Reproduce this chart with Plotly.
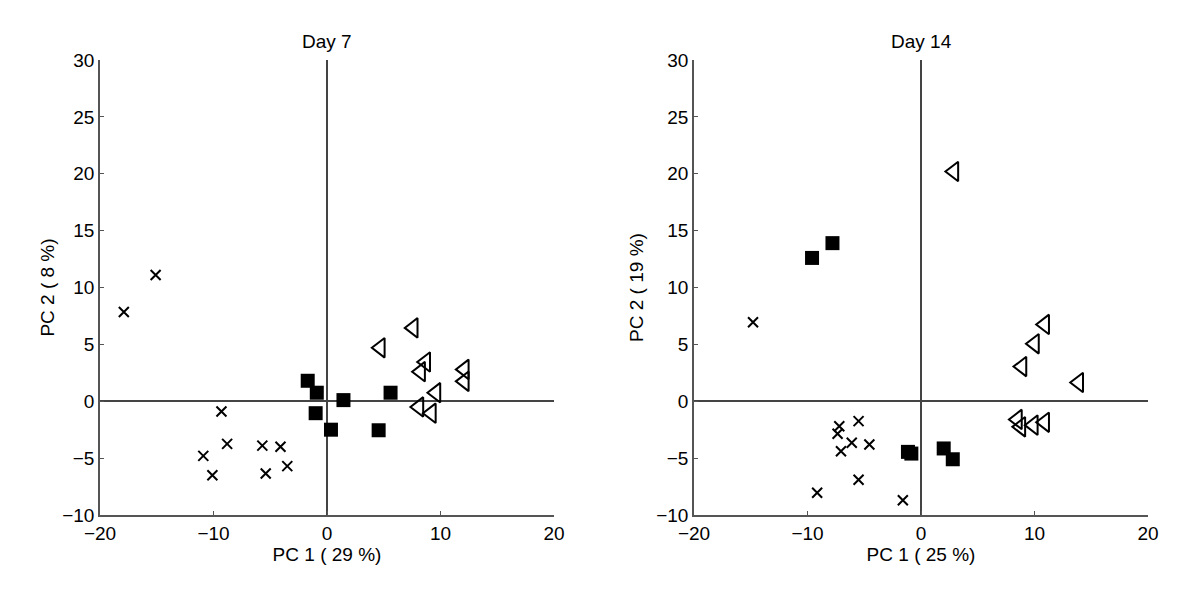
import plotly.graph_objects as go

# Day 7 data
d7_cross_x = [-17.9, -15.1, -9.3, -8.8, -10.9, -10.1, -5.7, -4.1, -5.4, -3.5]
d7_cross_y = [7.85, 11.1, -0.9, -3.75, -4.8, -6.5, -3.9, -4.0, -6.35, -5.7]
d7_sq_x = [-1.7, -0.9, -1.0, 1.45, 0.35, 5.6, 4.55]
d7_sq_y = [1.8, 0.75, -1.05, 0.1, -2.5, 0.75, -2.55]
d7_tri_x = [7.6, 4.7, 8.7, 8.25, 12.1, 12.1, 9.6, 8.1, 9.2]
d7_tri_y = [6.45, 4.7, 3.45, 2.6, 2.8, 1.75, 0.75, -0.5, -1.05]

# Day 14 data
d14_cross_x = [-14.8, -7.2, -7.35, -5.5, -6.1, -4.55, -7.05, -5.5, -9.15, -1.6]
d14_cross_y = [6.95, -2.2, -2.85, -1.75, -3.65, -3.8, -4.4, -6.9, -8.05, -8.7]
d14_sq_x = [-9.6, -7.8, -1.15, -0.85, 2.0, 2.8]
d14_sq_y = [12.6, 13.9, -4.45, -4.6, -4.15, -5.1]
d14_tri_x = [2.9, 10.9, 10.0, 8.9, 13.9, 8.5, 8.8, 9.9, 10.9]
d14_tri_y = [20.2, 6.75, 5.05, 3.05, 1.65, -1.6, -2.25, -2.1, -1.85]

titles = ["Day 7", "Day 14"]
xtitles = ["PC 1 ( 29 %)", "PC 1 ( 25 %)"]
ytitles = ["PC 2 ( 8 %)", "PC 2 ( 19 %)"]
x_ticks = [-20, -10, 0, 10, 20]
y_ticks = [-10, -5, 0, 5, 10, 15, 20, 25, 30]

FONT = "Liberation Sans, Arial, Helvetica, sans-serif"
FS = 19
fig = go.Figure()

datasets = [
    (d7_cross_x, d7_cross_y, d7_sq_x, d7_sq_y, d7_tri_x, d7_tri_y),
    (d14_cross_x, d14_cross_y, d14_sq_x, d14_sq_y, d14_tri_x, d14_tri_y),
]

for i, (cx, cy, sx, sy, tx, ty) in enumerate(datasets):
    xa = "x" if i == 0 else "x2"
    ya = "y" if i == 0 else "y2"
    fig.add_trace(go.Scatter(x=cx, y=cy, mode="markers", xaxis=xa, yaxis=ya,
                             marker=dict(symbol="x-thin", size=10, line=dict(width=2, color="black"), color="black"),
                             showlegend=False))
    fig.add_trace(go.Scatter(x=sx, y=sy, mode="markers", xaxis=xa, yaxis=ya,
                             marker=dict(symbol="square", size=14, color="black", line=dict(width=0)),
                             showlegend=False))
    fig.add_trace(go.Scatter(x=tx, y=ty, mode="markers", xaxis=xa, yaxis=ya,
                             marker=dict(symbol="triangle-left-open", size=17, color="black", line=dict(width=2, color="black")),
                             showlegend=False))

axis_common = dict(showgrid=False, showline=True, linecolor="#555", linewidth=1.5,
                   ticks="inside", ticklen=4, tickcolor="#555", tickwidth=1,
                   zeroline=True, zerolinecolor="#444", zerolinewidth=1.5, automargin=False,
                   tickfont=dict(family=FONT, size=FS, color="black"), mirror=False)

OFF = 8  # page offset
L, R, T, B = 100 - OFF, 52 + OFF, 60 - OFF, 85 + OFF
W = 1200 - L - R
def xd(a, b):
    return [(a - OFF - L) / W, (b - OFF - L) / W]

fig.update_layout(
    width=1200, height=600, plot_bgcolor="white", paper_bgcolor="white",
    margin=dict(l=L, r=R, t=T, b=B),
    xaxis=dict(domain=xd(100, 554), range=[-20, 20], tickvals=x_ticks, anchor="y",
               title=dict(text=xtitles[0], font=dict(family=FONT, size=FS, color="black"), standoff=0), **axis_common),
    yaxis=dict(domain=[0, 1], range=[-10, 30], tickvals=y_ticks, anchor="x",
               title=dict(text=ytitles[0], font=dict(family=FONT, size=FS, color="black"), standoff=3), **axis_common),
    xaxis2=dict(domain=xd(694, 1148), range=[-20, 20], tickvals=x_ticks, anchor="y2",
                title=dict(text=xtitles[1], font=dict(family=FONT, size=FS, color="black"), standoff=0), **axis_common),
    yaxis2=dict(domain=[0, 1], range=[-10, 30], tickvals=y_ticks, anchor="x2",
                title=dict(text=ytitles[1], font=dict(family=FONT, size=FS, color="black"), standoff=8), **axis_common),
    annotations=[
        dict(text=titles[0], x=0, y=30, xref="x", yref="y", yanchor="bottom", yshift=6, showarrow=False,
             font=dict(family=FONT, size=FS, color="black")),
        dict(text=titles[1], x=0, y=30, xref="x2", yref="y2", yanchor="bottom", yshift=6, showarrow=False,
             font=dict(family=FONT, size=FS, color="black")),
    ],
)

fig.write_html("out.html")
